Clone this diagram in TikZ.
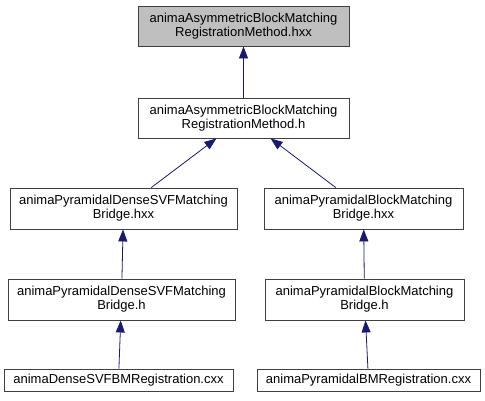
\documentclass[tikz,border=0pt]{standalone}
\usepackage{fontspec}
\setmainfont{Liberation Sans}
\usepackage{xcolor}
\usetikzlibrary{arrows.meta}
\definecolor{edgeblue}{HTML}{191970}
\definecolor{nodegray}{HTML}{BFBFBF}
\definecolor{framegray}{HTML}{404040}

\begin{document}
\begin{tikzpicture}[x=1pt,y=-1pt,>={Triangle[length=12pt,width=9pt]},
  file/.style={draw=framegray,line width=0.9pt,fill=white,align=center,inner sep=0pt,font=\fontsize{13}{14}\selectfont},
  inc/.style={->,edgeblue,line width=0.8pt}]
  \useasboundingbox (0,0) rectangle (485,400);
  \node[file,fill=nodegray,minimum width=211pt,minimum height=40pt] (hxx) at (243.5,26) {animaAsymmetricBlockMatching\\RegistrationMethod.hxx};
  \node[file,minimum width=211pt,minimum height=40pt] (h) at (243.5,118) {animaAsymmetricBlockMatching\\RegistrationMethod.h};
  \node[file,minimum width=227pt,minimum height=41pt] (dhxx) at (123.5,208.5) {animaPyramidalDenseSVFMatching\\Bridge.hxx};
  \node[file,minimum width=199pt,minimum height=41pt] (bhxx) at (363.5,208.5) {animaPyramidalBlockMatching\\Bridge.hxx};
  \node[file,minimum width=227pt,minimum height=41pt] (dh) at (121.5,299.5) {animaPyramidalDenseSVFMatching\\Bridge.h};
  \node[file,minimum width=199pt,minimum height=41pt] (bh) at (364.5,299.5) {animaPyramidalBlockMatching\\Bridge.h};
  \node[file,minimum width=229pt,minimum height=22pt] (dcxx) at (118.5,380) {animaDenseSVFBMRegistration.cxx};
  \node[file,minimum width=223pt,minimum height=22pt] (bcxx) at (368.5,380) {animaPyramidalBMRegistration.cxx};
  \draw[inc] (h) -- (hxx);
  \draw[inc] (dhxx) -- (h);
  \draw[inc] (bhxx) -- (h);
  \draw[inc] (dh) -- (dhxx);
  \draw[inc] (bh) -- (bhxx);
  \draw[inc] (dcxx) -- (dh);
  \draw[inc] (bcxx) -- (bh);
\end{tikzpicture}
\end{document}
